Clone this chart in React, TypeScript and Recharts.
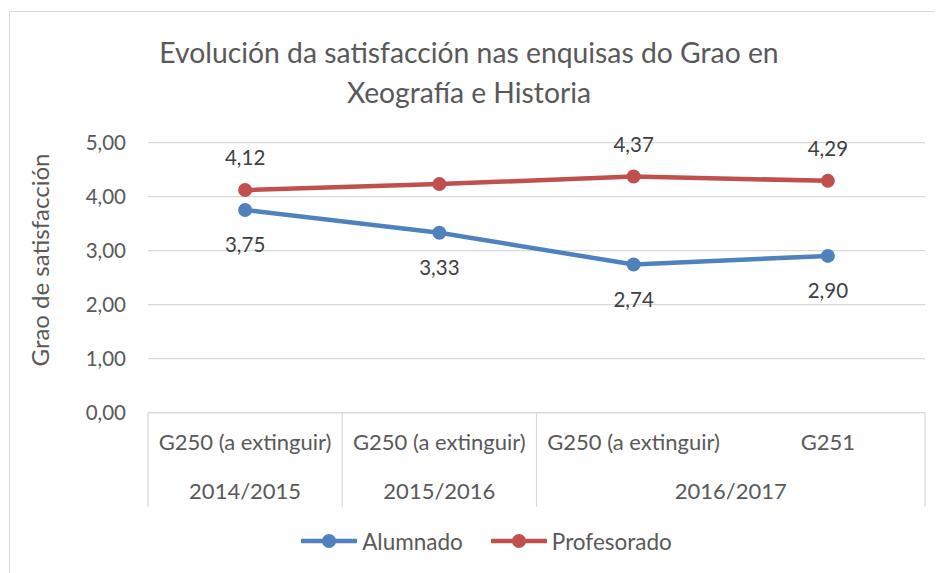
import React from "react";
import {
  ComposedChart,
  Line,
  XAxis,
  YAxis,
  CartesianGrid,
  Legend,
  LabelList,
} from "recharts";

// data
const grupos = ["G250 (a extinguir)", "G250 (a extinguir)", "G250 (a extinguir)", "G251"];
const cursos = ["2014/2015", "2015/2016", "2016/2017", "2016/2017"];
const alumnado = [3.75, 3.33, 2.74, 2.9];
const profesorado = [4.12, 4.23, 4.37, 4.29];
const profesoradoEtiqueta = [true, false, true, true];
const yTicks = [0, 1, 2, 3, 4, 5];

const data = grupos.map((g, i) => ({
  id: `${cursos[i]} ${g}`,
  grupo: g,
  curso: cursos[i],
  alumnado: alumnado[i],
  profesorado: profesorado[i],
}));

const W = 934;
const H = 565;
const MARGIN = { top: 134.5, right: 17, left: 0, bottom: 20 };
const Y_WIDTH = 140;
const BAND = (W - MARGIN.left - MARGIN.right - Y_WIDTH) / data.length;

const BLUE = "#4F81BD";
const RED = "#C0504D";
const GRID = "#d9d9d9";
const TEXT = "#595959";
const FONT = "Lato, 'Open Sans', sans-serif";

const fmt = (v: number) => v.toFixed(2).replace(".", ",");

// two level category axis: group label, then year spanning its groups
const CategoryTick = (props: any) => {
  const { x, y, payload } = props;
  const i = payload.index;
  const first = i === 0 || cursos[i] !== cursos[i - 1];
  let end = i;
  while (end + 1 < cursos.length && cursos[end + 1] === cursos[i]) end++;
  const yearX = x + ((end - i) / 2) * BAND;
  const lineLen = 94.5;
  return (
    <g>
      <text x={x} y={y + 30} dy="0.35em" textAnchor="middle" fill={TEXT} fontSize={22} fontFamily={FONT}>
        {grupos[i]}
      </text>
      {first && (
        <>
          <line x1={x - BAND / 2} x2={x - BAND / 2} y1={y} y2={y + lineLen} stroke={GRID} strokeWidth={1.25} />
          <text x={yearX} y={y + 78.5} dy="0.35em" textAnchor="middle" fill={TEXT} fontSize={22} fontFamily={FONT}>
            {cursos[i]}
          </text>
        </>
      )}
      {i === data.length - 1 && (
        <line x1={x + BAND / 2} x2={x + BAND / 2} y1={y} y2={y + lineLen} stroke={GRID} strokeWidth={1.25} />
      )}
    </g>
  );
};

const YTitle = (props: any) => {
  const { viewBox } = props;
  const cy = viewBox.y + viewBox.height / 2 - 17.5;
  return (
    <text
      x={33}
      y={cy}
      transform={`rotate(-90, 33, ${cy})`}
      textAnchor="middle"
      dy="0.35em"
      fill={TEXT}
      fontSize={24}
      fontFamily={FONT}
    >
      Grao de satisfacción
    </text>
  );
};

const LegendContent = (props: any) => {
  const { payload } = props;
  return (
    <div
      style={{
        display: "flex",
        justifyContent: "center",
        alignItems: "center",
        height: 24,
        paddingLeft: 40,
        fontFamily: FONT,
        fontSize: 22.5,
        color: TEXT,
      }}
    >
      {payload.map((p: any, idx: number) => (
        <div key={idx} style={{ display: "flex", alignItems: "center", marginRight: idx === 0 ? 28 : 0 }}>
          <svg width={56} height={16}>
            <line x1={1} x2={55} y1={8} y2={8} stroke={p.color} strokeWidth={4.5} strokeLinecap="round" />
            <circle cx={28} cy={8} r={7} fill={p.color} />
          </svg>
          <span style={{ marginLeft: 5 }}>{p.value}</span>
        </div>
      ))}
    </div>
  );
};

const ProfLabel = (props: any) => {
  const { x, y, value, index } = props;
  if (!profesoradoEtiqueta[index]) return null;
  return (
    <text x={x} y={y - 32} dy="0.35em" textAnchor="middle" fill="#404040" fontSize={20.5} fontFamily={FONT}>
      {fmt(value)}
    </text>
  );
};

const AlumLabel = (props: any) => {
  const { x, y, value } = props;
  return (
    <text x={x} y={y + 35} dy="0.35em" textAnchor="middle" fill="#404040" fontSize={20.5} fontFamily={FONT}>
      {fmt(value)}
    </text>
  );
};

export default function App() {
  return (
    <div style={{ position: "relative", width: W, height: H, background: "#fff" }}>
      <div
        style={{
          position: "absolute",
          left: 1,
          top: 3,
          width: 940,
          height: 600,
          border: `1px solid ${GRID}`,
        }}
      />
      <div
        style={{
          position: "absolute",
          left: -10,
          top: 24,
          width: 942,
          textAlign: "center",
          fontFamily: FONT,
          fontSize: 28.3,
          lineHeight: "40px",
          color: TEXT,
        }}
      >
        Evolución da satisfacción nas enquisas do Grao en
        <br />
        Xeografía e Historia
      </div>
      <div style={{ position: "absolute", left: 0, top: 0 }}>
        <ComposedChart width={W} height={H} data={data} margin={MARGIN}>
          <CartesianGrid vertical={false} stroke={GRID} strokeWidth={1.25} />
          <XAxis
            dataKey="id"
            scale="band"
            interval={0}
            height={116.5}
            axisLine={{ stroke: GRID, strokeWidth: 1.25 }}
            tickLine={false}
            tickSize={0}
            tickMargin={0}
            tick={<CategoryTick />}
          />
          <YAxis
            domain={[0, 5]}
            ticks={yTicks}
            width={Y_WIDTH}
            axisLine={false}
            tickLine={false}
            tickMargin={16}
            tickFormatter={fmt}
            tick={{ fill: TEXT, fontSize: 20.5, fontFamily: FONT }}
            label={<YTitle />}
          />
          <Legend verticalAlign="bottom" content={<LegendContent />} />
          <Line
            dataKey="alumnado"
            name="Alumnado"
            stroke={BLUE}
            strokeWidth={4.5}
            dot={{ r: 7, fill: BLUE, stroke: BLUE, strokeWidth: 0 }}
            activeDot={false}
            isAnimationActive={false}
          >
            <LabelList dataKey="alumnado" content={<AlumLabel />} />
          </Line>
          <Line
            dataKey="profesorado"
            name="Profesorado"
            stroke={RED}
            strokeWidth={4.5}
            dot={{ r: 7, fill: RED, stroke: RED, strokeWidth: 0 }}
            activeDot={false}
            isAnimationActive={false}
          >
            <LabelList dataKey="profesorado" content={<ProfLabel />} />
          </Line>
        </ComposedChart>
      </div>
    </div>
  );
}
